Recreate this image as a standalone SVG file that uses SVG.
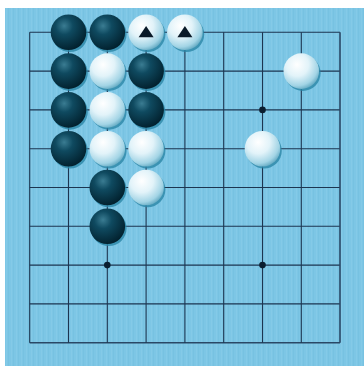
<svg xmlns="http://www.w3.org/2000/svg" width="364" height="366" viewBox="0 0 364 366">
<defs>
<pattern id="tex" width="5" height="366" patternUnits="userSpaceOnUse">
<rect width="5" height="366" fill="#7dc6e5"/>
<rect x="1" width="1" height="366" fill="#8bceea" opacity="0.5"/>
<rect x="3" width="1" height="366" fill="#70bddd" opacity="0.45"/>
</pattern>
<radialGradient id="gb" cx="0.38" cy="0.32" r="0.7">
<stop offset="0" stop-color="#3a7c92"/>
<stop offset="0.35" stop-color="#0f4a60"/>
<stop offset="1" stop-color="#02212e"/>
</radialGradient>
<radialGradient id="gw" cx="0.38" cy="0.32" r="0.72">
<stop offset="0" stop-color="#ffffff"/>
<stop offset="0.45" stop-color="#e2f3f9"/>
<stop offset="0.82" stop-color="#a2d4e5"/>
<stop offset="1" stop-color="#62a9c2"/>
</radialGradient>
<g id="b"><circle cx="1.5" cy="2" r="17.8" fill="#2b86a6" opacity="0.8"/><circle r="17.8" fill="url(#gb)"/></g>
<g id="w"><circle cx="1.5" cy="2" r="17.8" fill="#2b86a6" opacity="0.8"/><circle r="17.8" fill="url(#gw)"/></g>
</defs>
<style>
.grid line{stroke:#1c3550;stroke-width:1.1}
.hoshi{fill:#0a1e30}
.mark{fill:#0a1a28}
</style>
<rect width="364" height="366" fill="#ffffff"/>
<rect x="5" y="8" width="359" height="358" fill="url(#tex)"/>
<g id="connectors" class="grid">
<line x1="29.7" y1="32.3" x2="340" y2="32.3"/>
<line x1="29.7" y1="71.1" x2="340" y2="71.1"/>
<line x1="29.7" y1="109.9" x2="340" y2="109.9"/>
<line x1="29.7" y1="148.7" x2="340" y2="148.7"/>
<line x1="29.7" y1="187.5" x2="340" y2="187.5"/>
<line x1="29.7" y1="226.3" x2="340" y2="226.3"/>
<line x1="29.7" y1="265.1" x2="340" y2="265.1"/>
<line x1="29.7" y1="303.9" x2="340" y2="303.9"/>
<line x1="29.7" y1="342.7" x2="340" y2="342.7" style="stroke-width:1.6;stroke:#2a4866"/>
<line x1="29.7" y1="32.3" x2="29.7" y2="342.7"/>
<line x1="68.5" y1="32.3" x2="68.5" y2="342.7"/>
<line x1="107.3" y1="32.3" x2="107.3" y2="342.7"/>
<line x1="146.1" y1="32.3" x2="146.1" y2="342.7"/>
<line x1="184.9" y1="32.3" x2="184.9" y2="342.7"/>
<line x1="223.7" y1="32.3" x2="223.7" y2="342.7"/>
<line x1="262.5" y1="32.3" x2="262.5" y2="342.7"/>
<line x1="301.3" y1="32.3" x2="301.3" y2="342.7"/>
<line x1="340" y1="32.3" x2="340" y2="342.7" style="stroke-width:1.6;stroke:#2a4866"/>
</g>
<g id="hoshi">
<circle class="hoshi" cx="107.3" cy="265.1" r="3.3"/>
<circle class="hoshi" cx="262.5" cy="265.1" r="3.3"/>
<circle class="hoshi" cx="262.5" cy="109.9" r="3.3"/>
</g>
<g id="stones">
<use href="#b" x="68.5" y="32.3"/>
<use href="#b" x="107.3" y="32.3"/>
<use href="#w" x="146.1" y="32.3"/>
<use href="#w" x="184.9" y="32.3"/>
<use href="#b" x="68.5" y="71.1"/>
<use href="#w" x="107.3" y="71.1"/>
<use href="#b" x="146.1" y="71.1"/>
<use href="#w" x="301.3" y="71.1"/>
<use href="#b" x="68.5" y="109.9"/>
<use href="#w" x="107.3" y="109.9"/>
<use href="#b" x="146.1" y="109.9"/>
<use href="#b" x="68.5" y="148.7"/>
<use href="#w" x="107.3" y="148.7"/>
<use href="#w" x="146.1" y="148.7"/>
<use href="#w" x="262.5" y="148.7"/>
<use href="#b" x="107.3" y="187.5"/>
<use href="#w" x="146.1" y="187.5"/>
<use href="#b" x="107.3" y="226.3"/>
</g>
<g id="marks">
<polygon class="mark" points="146.1,26 153.6,37.3 138.6,37.3"/>
<polygon class="mark" points="184.9,26 192.4,37.3 177.4,37.3"/>
</g>
</svg>
